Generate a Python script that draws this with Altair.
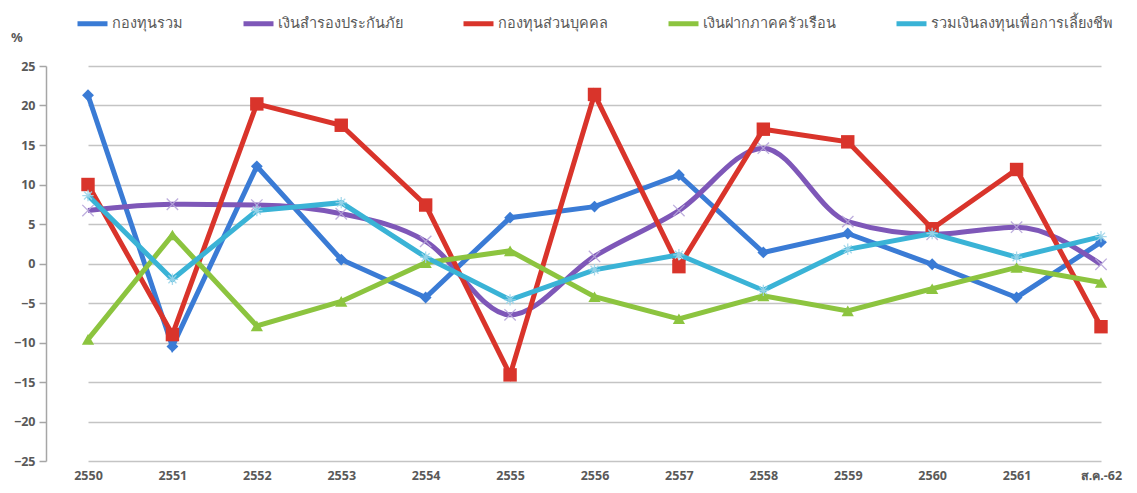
import altair as alt
import pandas as pd

periods = ["2550", "2551", "2552", "2553", "2554", "2555", "2556",
           "2557", "2558", "2559", "2560", "2561", "ส.ค.-62"]
series_names = ["กองทุนรวม", "เงินสำรองประกันภัย", "กองทุนส่วนบุคคล",
                "เงินฝากภาคครัวเรือน", "รวมเงินลงทุนเพื่อการเลี้ยงชีพ"]
mutual = [21.3, -10.5, 12.3, 0.5, -4.3, 5.8, 7.2, 11.2, 1.4, 3.8, -0.1, -4.3, 2.7]
insurance = [6.7, 7.5, 7.4, 6.3, 2.8, -6.5, 0.9, 6.7, 14.6, 5.3, 3.7, 4.6, -0.1]
private = [10.0, -9.0, 20.2, 17.5, 7.4, -14.1, 21.4, -0.4, 17.0, 15.4, 4.4, 11.9, -8.0]
deposit = [-9.6, 3.6, -7.9, -4.8, 0.1, 1.6, -4.2, -7.0, -4.1, -6.0, -3.2, -0.5, -2.4]
retire = [8.6, -2.0, 6.7, 7.7, 0.8, -4.6, -0.8, 1.1, -3.4, 1.8, 3.8, 0.8, 3.4]
colors = ["#3A7BD5", "#7E57B8", "#D9342B", "#8CC43F", "#3AB3D6"]
unit_label = ["%"]

all_values = [mutual, insurance, private, deposit, retire]
rows = []
for name, vals in zip(series_names, all_values):
    for p, v in zip(periods, vals):
        rows.append({"period": p, "series": name, "value": v})
df = pd.DataFrame(rows)

FONT = "Noto Sans"
legend = alt.Legend(
    title=None, orient="none", legendX=29, legendY=-60, direction="horizontal",
    columns=5, columnPadding=50, symbolType="stroke", symbolSize=900,
    symbolStrokeWidth=5, labelFontSize=14.5, labelColor="#595959",
    labelFont=FONT, labelLimit=400, labelOffset=2,
)
color_enc = alt.Color("series:N", scale=alt.Scale(domain=series_names, range=colors),
                      legend=legend)
x_enc = alt.X("period:N", sort=periods,
              scale=alt.Scale(type="point", domain=periods, range=[42, 1055], padding=0),
              axis=alt.Axis(title=None, labelAngle=0, domain=False, ticks=False,
                            grid=False, labelPadding=8, labelFontSize=12.5,
                            labelColor="#595959", labelFont=FONT, labelFontWeight="bold"))
y_enc = alt.Y("value:Q", scale=alt.Scale(domain=[-25, 25], nice=False),
              axis=alt.Axis(title=None, values=list(range(-25, 26, 5)), grid=True,
                            gridColor="#c4c4c4", gridWidth=1.5, domainColor="#a6a6a6",
                            domainWidth=1.5, tickColor="#a6a6a6", tickSize=7,
                            tickWidth=1.5, labelFontSize=12.5, labelColor="#595959",
                            labelFont=FONT, labelFontWeight="bold", labelPadding=4))

shapes = ["diamond", None, "square", "triangle-up", None]
sizes = [140, 0, 180, 150, 0]
stroke_shapes = [None, "M-1,-1L1,1M-1,1L1,-1", None, None,
                 "M-1,0L1,0M0,-1L0,1M-0.7,-0.7L0.7,0.7M-0.7,0.7L0.7,-0.7"]
stroke_colors = [None, "#B7A6DA", None, None, "#9ED6EA"]

base = alt.Chart(df)
layers = []
for i, name in enumerate(series_names):
    sub = base.transform_filter(alt.datum.series == name)
    interp = "monotone" if i == 1 else "linear"
    layers.append(sub.mark_line(strokeWidth=5, interpolate=interp).encode(
        x=x_enc, y=y_enc, color=color_enc))
    if shapes[i]:
        layers.append(sub.mark_point(filled=True, opacity=1, shape=shapes[i],
                                     size=sizes[i]).encode(
            x=x_enc, y=y_enc, color=color_enc))
    else:
        layers.append(sub.mark_point(filled=False, opacity=0.9, shape=stroke_shapes[i],
                                     size=130, strokeWidth=1.3,
                                     color=stroke_colors[i]).encode(
            x=x_enc, y=y_enc))

unit_text = alt.Chart(pd.DataFrame({"t": unit_label})).mark_text(
    font=FONT, fontSize=13, fontWeight="bold", color="#595959", align="left",
    baseline="middle").encode(text="t:N", x=alt.value(-35), y=alt.value(-28))
layers.append(unit_text)

chart = alt.layer(*layers).properties(
    width=1083, height=395,
    autosize=alt.AutoSizeParams(type="none"),
    padding={"left": 38, "top": 58, "right": 0, "bottom": 24},
).configure_view(stroke=None)

chart.save("out.html", embed_options={"renderer": "svg", "actions": False})
